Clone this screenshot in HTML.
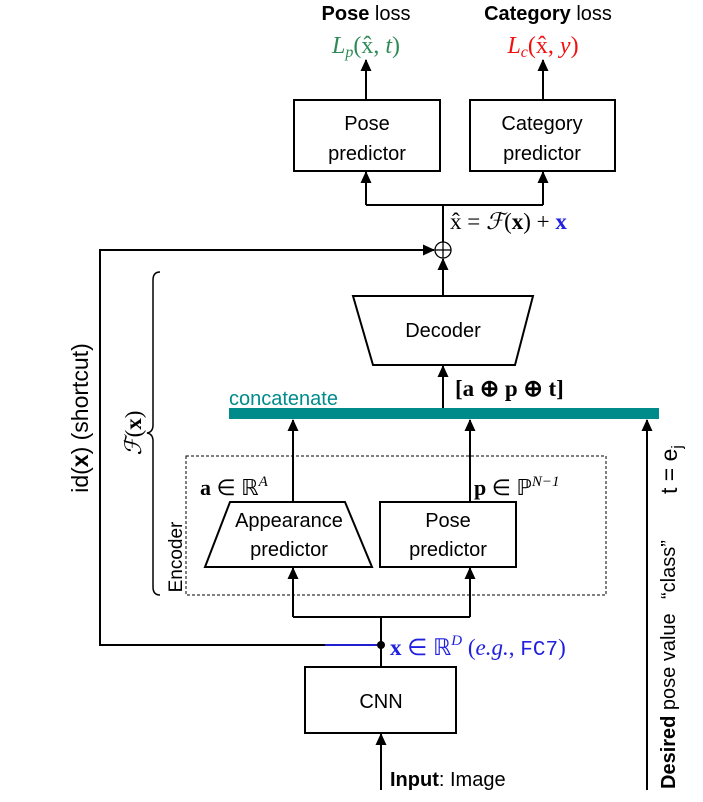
<!DOCTYPE html>
<html><head><meta charset="utf-8"><style>
html,body{margin:0;padding:0;background:#fff;}
svg text{font-family:"Liberation Sans",sans-serif;}
.m{font-family:"Liberation Serif",serif;}
</style></head><body>
<svg width="703" height="797" viewBox="0 0 703 797" xmlns="http://www.w3.org/2000/svg">
<defs>
<marker id="ah" markerWidth="12" markerHeight="12" refX="11" refY="6" orient="auto" markerUnits="userSpaceOnUse">
<path d="M0,0.5 L12,6 L0,11.5 z" fill="#000"/></marker>
</defs>
<g stroke="#000" stroke-width="2" fill="none">
<line x1="366" y1="100" x2="366" y2="60" marker-end="url(#ah)"/>
<line x1="543" y1="100" x2="543" y2="60" marker-end="url(#ah)"/>
<rect x="294" y="100" width="146" height="71"/>
<rect x="470" y="100" width="145" height="71"/>
<polyline points="366,205 543,205"/>
<line x1="366" y1="205" x2="366" y2="172" marker-end="url(#ah)"/>
<line x1="543" y1="205" x2="543" y2="172" marker-end="url(#ah)"/>
<line x1="443" y1="205" x2="443" y2="242"/>
<circle cx="443" cy="250" r="8" stroke-width="1.3"/>
<line x1="443" y1="242" x2="443" y2="258" stroke-width="1.3"/>
<line x1="435" y1="250" x2="451" y2="250" stroke-width="1.3"/>
<polyline points="381,645 100,645 100,250 420,250"/>
<line x1="410" y1="250" x2="434" y2="250" marker-end="url(#ah)"/>
<line x1="443" y1="296" x2="443" y2="259" marker-end="url(#ah)"/>
<polygon points="353,296 533,296 515,365 373,365"/>
<line x1="443" y1="408" x2="443" y2="366" marker-end="url(#ah)"/>
<line x1="293" y1="502" x2="293" y2="420" marker-end="url(#ah)"/>
<line x1="470" y1="502" x2="470" y2="420" marker-end="url(#ah)"/>
<rect x="186" y="456" width="420" height="139" stroke-width="1" stroke-dasharray="3,2"/>
<polygon points="230,502 345,502 372,567 205,567"/>
<rect x="380" y="502" width="136" height="65"/>
<polyline points="381,667 381,617 293,617"/>
<line x1="293" y1="617" x2="293" y2="568" marker-end="url(#ah)"/>
<polyline points="381,617 470,617"/>
<line x1="470" y1="617" x2="470" y2="568" marker-end="url(#ah)"/>
<rect x="305" y="667" width="151" height="66"/>
<line x1="381" y1="790" x2="381" y2="734" marker-end="url(#ah)"/>
<line x1="647" y1="790" x2="647" y2="420" marker-end="url(#ah)"/>
<path d="M160,272 Q153,272 153,280 L153,425 Q153,432 147,433 Q153,434 153,441 L153,587 Q153,595 160,595" stroke-width="1.5"/>
</g>
<line x1="325" y1="645" x2="381" y2="645" stroke="#2020d0" stroke-width="2"/>
<circle cx="381" cy="645" r="4" fill="#000"/>
<rect x="229" y="408" width="430" height="11" fill="#008b8b"/>
<text x="366" y="20" font-size="20" text-anchor="middle"><tspan font-weight="bold">Pose</tspan> loss</text>
<text x="548" y="20" font-size="20" text-anchor="middle"><tspan font-weight="bold">Category</tspan> loss</text>
<text x="366" y="53" font-size="24" text-anchor="middle" class="m" fill="#2e8b57"><tspan font-style="italic">L<tspan font-size="16" dy="4">p</tspan></tspan><tspan dy="-4">(x̂, </tspan><tspan font-style="italic">t</tspan>)</text>
<text x="543" y="53" font-size="24" text-anchor="middle" class="m" fill="#f01010"><tspan font-style="italic">L<tspan font-size="16" dy="4">c</tspan></tspan><tspan dy="-4">(x̂, </tspan><tspan font-style="italic">y</tspan>)</text>
<text x="367" y="130" font-size="20" text-anchor="middle">Pose</text>
<text x="367" y="160" font-size="20" text-anchor="middle">predictor</text>
<text x="542" y="130" font-size="20" text-anchor="middle">Category</text>
<text x="542" y="160" font-size="20" text-anchor="middle">predictor</text>
<text x="450" y="229" font-size="23" class="m">x̂ = <tspan font-style="italic">ℱ</tspan>(<tspan font-weight="bold">x</tspan>) + <tspan fill="#2020e0" font-weight="bold">x</tspan></text>
<text x="443" y="337" font-size="20" text-anchor="middle">Decoder</text>
<text x="455" y="396" font-size="23" class="m" font-weight="bold">[a ⊕ p ⊕ t]</text>
<text x="229" y="405" font-size="20" fill="#008b8b">concatenate</text>
<text x="200" y="495" font-size="22" class="m"><tspan font-weight="bold">a</tspan> ∈ ℝ<tspan font-size="15" dy="-9" font-style="italic">A</tspan></text>
<text x="474" y="495" font-size="22" class="m"><tspan font-weight="bold">p</tspan> ∈ ℙ<tspan font-size="15" dy="-9" font-style="italic">N−1</tspan></text>
<text x="289" y="527" font-size="20" text-anchor="middle">Appearance</text>
<text x="289" y="556" font-size="20" text-anchor="middle">predictor</text>
<text x="448" y="527" font-size="20" text-anchor="middle">Pose</text>
<text x="448" y="556" font-size="20" text-anchor="middle">predictor</text>
<text x="390" y="655" font-size="23" class="m" fill="#2020e0"><tspan font-weight="bold">x</tspan> ∈ ℝ<tspan font-size="15" dy="-10" font-style="italic">D</tspan><tspan dy="10"> (</tspan><tspan font-style="italic">e.g.</tspan>, <tspan font-family="Liberation Mono" font-size="21">FC7</tspan>)</text>
<text x="381" y="708" font-size="20" text-anchor="middle">CNN</text>
<text x="390" y="786" font-size="20"><tspan font-weight="bold">Input</tspan>: Image</text>
<text transform="translate(88,418) rotate(-90)" font-size="23" text-anchor="middle">id(<tspan font-weight="bold">x</tspan>) (shortcut)</text>
<text transform="translate(141,433) rotate(-90)" font-size="23" text-anchor="middle" class="m"><tspan font-style="italic">ℱ</tspan>(<tspan font-weight="bold">x</tspan>)</text>
<text transform="translate(182,557) rotate(-90)" font-size="19" text-anchor="middle">Encoder</text>
<text transform="translate(675,789) rotate(-90)" font-size="20"><tspan font-weight="bold">Desired</tspan> pose value</text>
<text transform="translate(675,599) rotate(-90)" font-size="20">“class”</text>
<text transform="translate(677,494) rotate(-90)" font-size="23">t = e<tspan font-size="15" dy="5">j</tspan></text>
</svg>
</body></html>
